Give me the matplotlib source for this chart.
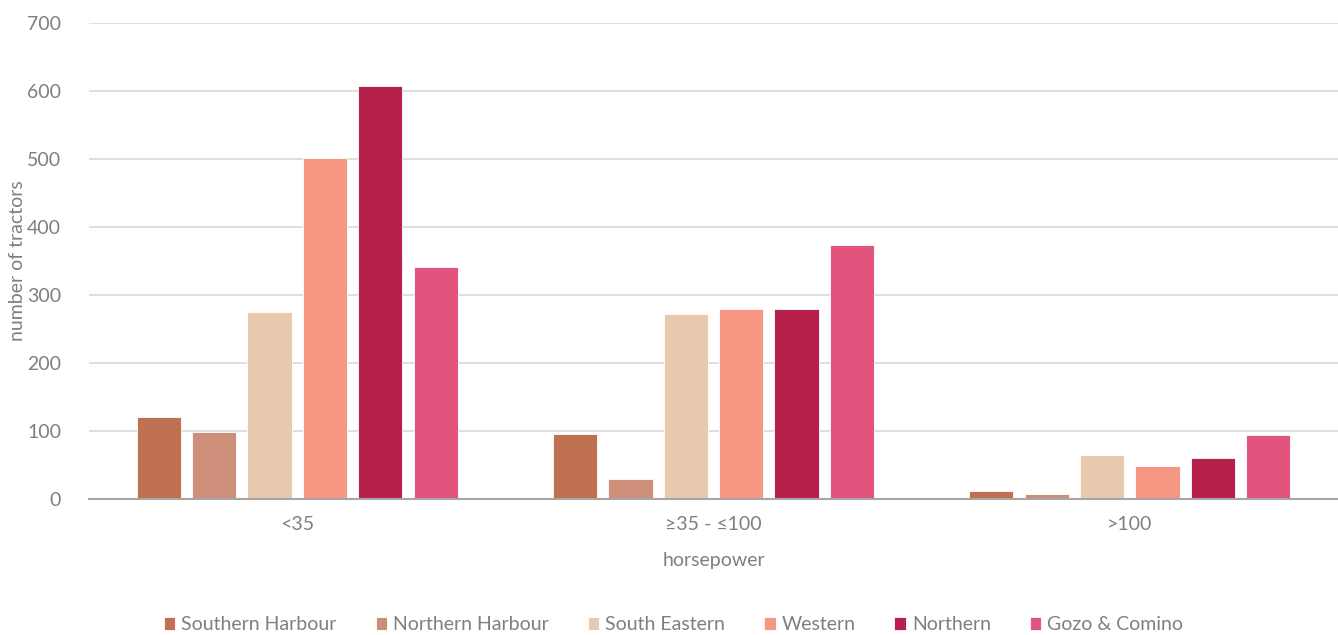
import numpy as np
import matplotlib.pyplot as plt

plt.rcParams['font.family'] = ['Lato', 'DejaVu Sans']

# horsepower classes and tractor counts per district
classes = ['<35', '≥35 - ≤100', '>100']
districts = ['Southern Harbour', 'Northern Harbour', 'South Eastern',
             'Western', 'Northern', 'Gozo & Comino']
counts = [
    [120, 96, 12],    # Southern Harbour
    [99, 29, 7],      # Northern Harbour
    [275, 272, 65],   # South Eastern
    [501, 280, 49],   # Western
    [608, 280, 60],   # Northern
    [341, 374, 94],   # Gozo & Comino
]
colors = ['#C07152', '#CE8F7A', '#E9C9AE', '#F59782', '#B8204C', '#E1547D']

fig = plt.figure(figsize=(13.38, 6.35), dpi=100)
ax = fig.add_axes([89 / 1338, 136 / 635, 1249 / 1338, 476 / 635])

x = np.arange(len(classes))
pitch = 0.133
width = 0.106
for i, (name, vals) in enumerate(zip(districts, counts)):
    offs = (i - 2.5) * pitch
    ax.bar(x + offs, vals, width, color=colors[i], label=name,
           edgecolor='white', linewidth=0.6, zorder=3)

ax.set_xlim(-0.5, 2.5)
ax.set_ylim(0, 700)
ax.set_yticks(range(0, 701, 100))
ax.set_xticks(x)
ax.set_xticklabels(classes)
ax.grid(axis='y', color='#D9D9D9', linewidth=1.2, zorder=0)
for s in ['top', 'right', 'left']:
    ax.spines[s].set_visible(False)
ax.spines['bottom'].set_color('#A6A6A6')
ax.spines['bottom'].set_linewidth(1.5)
ax.spines['bottom'].set_zorder(4)
ax.tick_params(axis='both', length=0, labelsize=14, colors='#7F7F7F')
ax.tick_params(axis='x', pad=12)
ax.tick_params(axis='y', pad=20)

ax.set_xlabel('horsepower', fontsize=14, color='#7F7F7F', labelpad=14)
fig.text(18 / 1338, 1 - 261 / 635, 'number of tractors', rotation=90,
         ha='center', va='center', fontsize=14, color='#7F7F7F')

leg = ax.legend(loc='upper center', bbox_to_anchor=(0.468, -0.21), ncol=6,
                frameon=False, fontsize=14, handlelength=0.6, handleheight=0.6,
                handletextpad=0.3, columnspacing=2.0)
for t in leg.get_texts():
    t.set_color('#7F7F7F')

fig.savefig('out.png', dpi=100)
